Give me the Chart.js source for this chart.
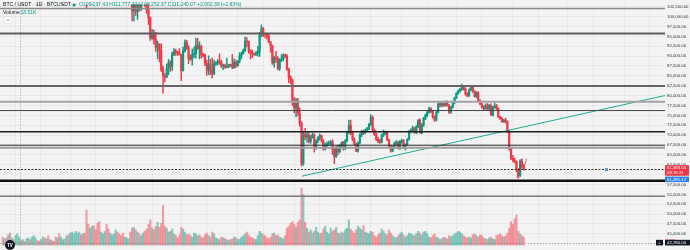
<!DOCTYPE html>
<html>
<head>
<meta charset="utf-8">
<script src="https://cdn.jsdelivr.net/npm/chart.js@4.4.1/dist/chart.umd.min.js"></script>
<style>
  html, body { margin: 0; padding: 0; background: #f3f3f3; }
  #wrap { width: 690px; height: 250px; }
</style>
</head>
<body>
<div id="wrap"><canvas id="c" width="690" height="250"></canvas></div>
<script>
// BTC / USDT daily candles, prices in thousands of USDT, volume in K BTC
const opens = [
  113.5,110.1,111.8,111.3,112.6,108.4,108.8,108.2,109.2,111.2,
  111.7,110.7,110.7,110.2,111.1,112.0,111.5,113.9,115.5,116.0,
  115.9,115.3,115.3,116.8,116.4,117.1,115.6,115.7,115.2,112.6,
  111.9,113.3,109.0,109.6,109.6,112.1,114.4,114.0,118.6,120.5,
  122.2,122.4,123.5,124.7,121.4,123.3,121.7,113.2,110.6,115.2,
  115.3,113.0,110.8,108.2,106.4,107.2,108.6,110.6,108.5,107.6,
  110.1,111.0,111.6,114.6,114.1,112.9,110.1,108.3,109.6,110.1,
  110.6,106.6,101.5,103.9,101.3,103.3,102.3,104.7,106.0,103.1,
  101.7,99.7,94.6,95.6,94.3,92.2,92.9,91.5,86.6,85.1,
  84.7,86.8,88.3,87.4,90.5,91.3,90.9,90.8,90.4,86.3,
  91.3,93.4,92.1,89.4,89.3,90.4,90.6,92.7,92.0,92.5,
  90.3,90.3,88.2,86.4,87.8,86.2,85.5,88.1,88.3,88.6,
  88.5,87.5,87.6,87.2,87.3,87.8,87.8,87.1,88.4,87.6,
  88.7,90.0,90.6,91.4,93.8,93.7,91.3,91.0,90.6,90.5,
  90.8,91.2,95.3,97.0,95.6,95.5,95.1,93.6,92.6,88.3,
  89.5,89.4,86.8,88.9,89.3,90.2,90.1,86.7,84.6,84.0,
  78.6,76.9,78.7,75.6,73.0,62.8,70.1,69.6,70.0,68.4,
  69.5,70.0,66.9,68.6,69.3,69.9,68.5,66.5,67.5,67.8,
  68.0,68.3,66.3,64.6,66.9,65.8,67.4,68.1,66.6,68.6,
  70.6,72.5,70.6,68.9,67.7,66.0,68.0,70.1,70.8,70.6,
  71.2,71.6,72.7,74.5,71.3,70.2,68.9,68.5,68.2,69.9,
  70.5,70.8,68.8,67.3,66.0,67.0,67.9,68.2,66.7,68.4,
  68.6,66.8,67.5,68.9,70.9,71.3,71.8,70.6,72.1,73.8,
  70.6,72.5,74.2,75.0,75.8,76.7,76.0,74.6,73.8,75.8,
  77.9,77.6,77.9,77.5,78.3,77.5,75.8,77.0,78.2,79.4,
  80.6,81.2,81.6,82.4,81.7,80.4,80.0,81.5,82.2,81.1,
  79.8,80.8,78.7,77.9,77.1,76.7,77.5,76.7,77.5,75.1,
  77.1,77.5,76.7,74.6,74.2,73.4,73.8,73.4,71.0,66.5,
  64.1,63.6,63.3,61.1,59.8,63.4,62.0
];
const highs = [
  113.6,112.4,112.6,113.5,112.7,108.9,109.0,109.9,111.8,112.6,
  112.2,113.4,111.3,111.5,112.9,113.2,114.3,115.5,116.7,116.3,
  116.1,116.8,117.0,117.3,117.9,117.5,116.1,115.8,115.4,113.3,
  113.9,113.4,110.0,109.8,112.4,114.5,114.8,118.6,121.0,123.9,
  122.9,125.7,126.2,125.1,124.2,123.8,122.6,113.5,115.8,116.0,
  115.6,113.6,111.3,109.2,107.5,109.5,111.7,114.0,109.1,111.0,
  112.0,111.9,115.0,116.4,116.1,113.6,111.6,111.2,110.6,111.2,
  110.8,107.3,104.5,104.2,104.0,103.9,105.0,106.7,107.5,105.3,
  104.0,99.9,96.8,96.6,96.0,93.8,93.2,93.2,87.5,85.6,
  88.0,89.2,88.9,91.0,91.9,91.8,91.2,91.9,90.4,92.3,
  94.1,94.0,92.7,90.3,91.8,92.3,94.6,94.5,93.6,92.8,
  90.7,90.5,89.0,90.1,89.2,89.5,89.0,88.6,89.1,90.6,
  89.0,88.0,88.0,89.5,88.0,88.0,90.4,89.3,89.0,88.9,
  90.9,91.0,91.8,94.8,94.7,93.8,91.6,91.6,90.8,91.2,
  92.5,96.0,97.9,97.2,95.9,95.6,95.5,93.6,92.8,90.0,
  91.2,89.9,89.4,90.4,90.6,90.5,90.4,87.0,85.0,84.2,
  79.5,79.3,79.3,76.9,73.4,71.0,71.7,70.8,70.5,70.0,
  70.6,70.4,68.8,69.6,70.3,70.0,68.9,68.0,68.3,68.5,
  68.6,68.8,66.8,67.3,67.5,67.6,68.3,68.4,68.9,70.9,
  73.8,73.8,71.0,69.3,68.0,68.3,70.4,71.2,71.3,71.5,
  72.0,73.0,75.2,74.9,71.6,70.5,69.5,69.0,70.2,71.3,
  71.0,71.0,69.0,67.5,67.2,68.3,68.6,68.4,68.7,69.0,
  68.9,67.8,69.1,71.2,71.6,72.3,72.0,72.4,73.9,74.2,
  72.9,74.5,75.3,76.0,77.1,77.0,76.3,74.9,76.0,78.2,
  78.5,78.3,78.1,78.6,78.7,77.8,77.3,78.3,79.6,80.8,
  81.4,81.9,82.9,82.6,82.0,80.7,81.7,82.6,82.5,81.3,
  81.0,81.0,79.0,78.2,77.4,77.9,78.0,77.8,77.9,77.3,
  78.1,77.8,77.0,74.8,74.5,74.0,74.3,73.6,71.2,66.8,
  64.9,64.2,63.5,61.5,63.8,64.0,62.7
];
const lows = [
  109.7,109.3,110.4,110.9,107.5,107.4,108.1,107.3,108.7,110.9,
  109.3,110.1,109.9,110.0,110.6,110.8,110.9,113.4,114.8,115.3,
  114.8,114.4,114.8,114.7,116.2,115.1,115.4,114.9,111.9,111.2,
  111.6,108.6,108.6,109.1,109.3,111.6,112.6,113.9,118.0,119.3,
  121.7,122.1,123.1,120.6,121.1,119.7,102.0,109.7,109.6,113.0,
  110.0,110.2,107.5,103.5,106.3,106.1,107.4,107.5,106.9,107.5,
  109.7,110.6,111.3,113.9,112.2,109.2,106.3,108.0,109.4,109.6,
  105.3,98.9,98.9,100.3,99.3,101.4,101.5,104.3,102.5,100.8,
  98.0,94.0,94.2,93.0,91.2,89.3,88.6,86.1,80.6,83.5,
  84.6,85.3,86.1,86.3,90.1,90.2,90.2,90.3,83.8,86.2,
  91.0,91.7,88.1,88.9,87.7,89.6,89.5,91.7,89.3,89.5,
  89.8,87.6,85.1,85.3,85.3,84.4,85.3,87.6,87.8,87.9,
  87.1,86.6,86.9,87.0,87.1,87.4,86.8,86.9,87.1,87.4,
  88.3,89.3,90.5,91.1,92.4,90.7,89.3,89.6,90.2,90.1,
  90.0,89.9,94.9,94.9,94.6,94.3,93.4,91.0,87.9,87.2,
  88.4,86.5,86.4,88.6,88.8,89.6,86.4,83.3,83.0,77.5,
  75.7,74.6,74.9,72.2,62.2,62.3,68.9,68.2,68.0,67.9,
  69.2,65.7,66.4,68.0,68.7,68.2,66.2,66.2,67.0,67.4,
  67.6,65.1,62.8,64.3,65.0,65.5,67.0,66.2,66.3,68.3,
  70.3,70.1,68.6,67.5,65.8,65.7,67.8,69.6,70.1,70.3,
  70.9,71.4,72.4,71.1,69.9,68.6,68.1,67.9,68.0,69.6,
  70.1,68.6,67.1,65.7,65.8,66.7,67.6,66.5,66.4,67.9,
  66.6,66.2,67.3,68.7,70.5,71.0,70.4,70.3,71.9,70.4,
  70.3,72.2,73.9,74.7,75.5,75.7,74.3,73.5,73.6,75.6,
  77.1,77.2,77.2,77.3,77.3,75.4,75.5,76.8,77.9,79.2,
  80.3,80.9,81.3,81.4,80.1,79.7,79.8,81.2,80.8,79.6,
  79.5,78.5,77.7,76.8,76.4,76.5,76.4,76.4,74.9,74.8,
  76.8,76.5,74.5,74.0,73.2,73.2,73.0,70.7,66.2,63.8,
  63.2,62.9,60.7,59.1,59.5,61.6,61.1
];
const closes = [
  110.1,111.8,111.3,112.6,108.4,108.8,108.2,109.2,111.2,111.7,
  110.7,110.7,110.2,111.1,112.0,111.5,113.9,115.5,116.0,115.9,
  115.3,115.3,116.8,116.4,117.1,115.6,115.7,115.2,112.6,111.9,
  113.3,109.0,109.6,109.6,112.1,114.4,114.0,118.6,120.5,122.2,
  122.4,123.5,124.7,121.4,123.3,121.7,113.2,110.6,115.2,115.3,
  113.0,110.8,108.2,106.4,107.2,108.6,110.6,108.5,107.6,110.1,
  111.0,111.6,114.6,114.1,112.9,110.1,108.3,109.6,110.1,110.6,
  106.6,101.5,103.9,101.3,103.3,102.3,104.7,106.0,103.1,101.7,
  99.7,94.6,95.6,94.3,92.2,92.9,91.5,86.6,85.1,84.7,
  86.8,88.3,87.4,90.5,91.3,90.9,90.8,90.4,86.3,91.3,
  93.4,92.1,89.4,89.3,90.4,90.6,92.7,92.0,92.5,90.3,
  90.2,88.2,86.4,87.8,86.2,85.5,88.1,88.3,88.6,88.5,
  87.5,87.6,87.2,87.3,87.8,87.7,87.1,88.4,87.6,88.7,
  90.0,90.6,91.4,93.8,93.7,91.3,91.0,90.6,90.5,90.8,
  91.2,95.3,97.0,95.6,95.5,95.1,93.6,92.6,88.3,89.5,
  89.4,86.8,88.9,89.3,90.2,90.1,86.7,84.6,84.0,78.6,
  76.9,78.7,75.6,73.0,62.8,70.1,69.6,70.0,68.4,69.5,
  70.0,66.9,68.6,69.3,69.9,68.5,66.5,67.5,67.8,68.0,
  68.3,66.3,64.6,66.9,65.8,67.4,68.1,66.6,68.6,70.6,
  72.5,70.6,68.9,67.7,66.0,68.0,70.1,70.8,70.6,71.2,
  71.6,72.7,74.5,71.3,70.2,68.9,68.5,68.2,69.9,70.5,
  70.8,68.8,67.3,66.0,67.0,67.9,68.2,66.7,68.4,68.6,
  66.8,67.5,68.9,70.9,71.3,71.8,70.6,72.1,73.8,70.6,
  72.5,74.2,75.0,75.8,76.7,76.0,74.6,73.8,75.8,77.9,
  77.6,77.9,77.5,78.3,77.5,75.8,77.0,78.2,79.4,80.6,
  81.2,81.6,82.4,81.7,80.4,80.0,81.5,82.2,81.1,79.8,
  80.8,78.7,77.9,77.1,76.7,77.5,76.7,77.5,75.1,77.1,
  77.5,76.7,74.6,74.2,73.4,73.8,73.4,71.0,66.5,64.1,
  63.6,63.3,61.1,59.8,63.4,62.0,61.39355
];
const volumes = [
  19,15,17,24,28,17,13,22,26,19,
  11,13,9,15,17,13,19,22,17,11,
  9,13,19,17,15,22,13,11,9,19,
  17,26,19,13,15,22,24,28,30,26,
  32,28,30,24,26,28,80,48,39,43,
  45,35,50,54,30,26,32,48,37,28,
  24,26,35,30,26,22,28,19,17,15,
  30,39,41,35,30,26,22,28,32,37,
  48,58,39,35,43,52,41,50,91,43,
  39,30,32,37,26,22,17,24,41,37,
  30,24,26,22,19,28,26,22,24,19,
  17,24,28,22,19,30,26,17,15,13,
  19,17,15,13,11,13,15,19,17,13,
  15,19,22,26,30,24,19,17,15,13,
  22,32,28,24,22,17,15,19,26,28,
  22,24,19,17,15,22,39,43,50,54,
  48,41,52,58,130,115,52,39,30,35,
  28,32,41,30,26,28,37,43,30,26,
  39,32,35,41,28,26,30,28,35,39,
  58,37,32,28,35,43,39,35,45,30,
  28,26,32,30,22,19,24,28,37,32,
  26,24,35,28,22,19,17,22,26,30,
  24,19,22,28,26,24,22,26,32,28,
  24,30,32,26,19,17,22,26,19,17,
  13,15,19,17,15,22,19,22,26,28,
  32,30,26,22,19,17,19,17,24,26,
  22,19,24,22,17,15,13,17,19,15,
  13,22,24,26,22,19,22,28,39,54,
  48,60,69,32,26,22,18.51
];

// horizontal levels drawn on the chart (price, thousands)
const levels = [102.07, 95.73, 82.44, 78.42, 76.22, 70.85, 67.44, 66.83, 58.42, 54.51];
const lastPrice = 61.39355;
// trend line and small red strokes: [dayIndex, price]
const trendLine = [[164.2, 59.6], [363.5, 80.03]];
const redStrokeA = [[282.1, 59.15], [283.9, 61.59]];
const redStrokeB = [[285.7, 61.18], [287.6, 64.03]];
// axis ticks
const priceTicks = [42.5,45,47.5,50,52.5,55,57.5,60,62.5,65,67.5,70,72.5,75,77.5,80,82.5,85,87.5,90,92.5,95,97.5,100,102.5];
const gridDays = [7,21,37,51,68,82,98,112,129,143,160,174,188,202,219,233,249,263,280,294,310,324,341,355];
const crosshairDay = 9.5;
const crosshairPrice = 42.78;

const UP = '#089981', DOWN = '#f23645';
const isUp = i => closes[i] >= opens[i];

const fmt = v => (v * 1000).toLocaleString('en-US', { minimumFractionDigits: 2, maximumFractionDigits: 2 });

const decor = {
  id: 'decor',
  beforeDraw(chart) {
    const ctx = chart.ctx;
    ctx.save();
    ctx.fillStyle = '#f3f3f3';
    ctx.fillRect(0, 0, chart.width, chart.height);
    ctx.restore();
  },
  beforeDatasetsDraw(chart) {
    const { ctx, chartArea: a, scales } = chart;
    ctx.save();
    ctx.strokeStyle = '#9a9ea8';
    ctx.lineWidth = 1;
    ctx.setLineDash([1, 2]);
    const cx = Math.round(scales.x.getPixelForValue(crosshairDay)) + 0.5;
    ctx.beginPath(); ctx.moveTo(cx, a.top); ctx.lineTo(cx, a.bottom); ctx.stroke();
    const cy = Math.round(scales.y.getPixelForValue(crosshairPrice)) + 0.5;
    ctx.beginPath(); ctx.moveTo(a.left, cy); ctx.lineTo(a.right, cy); ctx.stroke();
    ctx.restore();
  },
  afterDatasetsDraw(chart) {
    const { ctx, chartArea: a, scales } = chart;
    const y = scales.y;
    const styles = [
      ['#8a8a8a', 1.5], ['#5e5e5e', 2], ['#666666', 2], ['#a3a3a3', 2], ['#444444', 1],
      ['#1e1e1e', 1.5], ['#2a2a2a', 1], ['#9c9c9c', 2], ['#111111', 2.5], ['#7a7a7a', 1.5]
    ];
    ctx.save();
    ctx.beginPath(); ctx.rect(a.left, a.top, a.right - a.left, a.bottom - a.top); ctx.clip();
    levels.forEach((p, k) => {
      const py = y.getPixelForValue(p);
      ctx.strokeStyle = styles[k][0];
      ctx.lineWidth = styles[k][1];
      ctx.beginPath(); ctx.moveTo(a.left, py); ctx.lineTo(a.right, py); ctx.stroke();
    });
    // last price line
    const lp = Math.round(y.getPixelForValue(lastPrice)) + 0.5;
    ctx.strokeStyle = '#2b2b2b';
    ctx.lineWidth = 1.2;
    ctx.setLineDash([2, 1.5]);
    ctx.beginPath(); ctx.moveTo(a.left, lp); ctx.lineTo(a.right, lp); ctx.stroke();
    ctx.setLineDash([]);
    ctx.fillStyle = '#5b9bd5';
    ctx.fillRect(605, lp - 1.5, 3, 3);
    ctx.restore();
  },
  afterDraw(chart) {
    const { ctx, scales } = chart;
    const y = scales.y;
    ctx.save();
    ctx.textBaseline = 'middle';
    // header legend
    ctx.font = '5.1px "Liberation Sans", Arial, sans-serif';
    ctx.fillStyle = '#131722';
    ctx.fillText('BTC / USDT · 1D · BTCUSDT', 3, 5);
    ctx.fillStyle = '#089981';
    ctx.beginPath(); ctx.arc(74, 5, 1.5, 0, Math.PI * 2); ctx.fill();
    ctx.font = '5px "Liberation Sans", Arial, sans-serif';
    ctx.fillText('O109,237.43 H111,777.32 L108,252.37 C111,240.07 +2,002.39 (+1.83%)', 79, 5);
    ctx.fillStyle = '#131722';
    ctx.fillText('Volume', 3, 13);
    ctx.fillStyle = '#089981';
    ctx.fillText('18.51K', 20.5, 13);
    // collapse button
    ctx.fillStyle = '#ffffff';
    ctx.strokeStyle = '#d6d6d6';
    ctx.lineWidth = 0.6;
    ctx.beginPath(); ctx.rect(4, 17, 8, 6); ctx.fill(); ctx.stroke();
    ctx.strokeStyle = '#333';
    ctx.beginPath(); ctx.moveTo(6.5, 21); ctx.lineTo(8, 19.5); ctx.lineTo(9.5, 21); ctx.stroke();

    // right side price labels
    const box = (x, yy, w, h, bg) => { ctx.fillStyle = bg; ctx.fillRect(x, yy, w, h); };
    ctx.font = '4.3px "Liberation Sans", Arial, sans-serif';
    const lpY = y.getPixelForValue(lastPrice);
    box(665, lpY - 4, 24, 10.5, '#f23645');
    ctx.fillStyle = '#ffffff';
    ctx.fillText(fmt(lastPrice), 667, lpY - 1);
    ctx.fillText('09:16:21', 667, lpY + 3.5);
    box(665, lpY + 7.5, 24, 5.5, '#2f80ed');
    ctx.fillStyle = '#ffffff';
    ctx.fillText('61,281.17', 667, lpY + 10.3);
    // volume label and crosshair label
    box(665, 239.5, 10.5, 5, '#f7525f');
    ctx.fillStyle = '#ffffff';
    ctx.font = '3.6px "Liberation Sans", Arial, sans-serif';
    ctx.fillText('18.51K', 665.7, 242);
    const chY = y.getPixelForValue(crosshairPrice);
    box(656, chY - 2.8, 7, 5.6, '#131722');
    box(665, chY - 2.8, 25, 5.6, '#131722');
    ctx.fillStyle = '#ffffff';
    ctx.font = '4.3px "Liberation Sans", Arial, sans-serif';
    ctx.fillText(fmt(crosshairPrice), 667, chY);
    ctx.fillText('+', 658, chY);

    // TradingView badge
    ctx.fillStyle = '#131722';
    ctx.beginPath(); ctx.arc(10, 245, 5, 0, Math.PI * 2); ctx.fill();
    ctx.fillStyle = '#ffffff';
    ctx.font = 'bold 4.5px "Liberation Sans", Arial, sans-serif';
    ctx.fillText('TV', 7, 245.3);
    ctx.restore();
  }
};

const idx = closes.map((_, i) => i);

new Chart(document.getElementById('c'), {
  data: {
    datasets: [
      {
        type: 'line', order: -1, yAxisID: 'y',
        data: trendLine.map(p => ({ x: p[0], y: p[1] })),
        borderColor: '#22ab94', borderWidth: 1, pointRadius: 0
      },
      {
        type: 'line', order: -1, yAxisID: 'y',
        data: redStrokeA.map(p => ({ x: p[0], y: p[1] })),
        borderColor: '#f23645', borderWidth: 0.8, pointRadius: 0
      },
      {
        type: 'line', order: -1, yAxisID: 'y',
        data: redStrokeB.map(p => ({ x: p[0], y: p[1] })),
        borderColor: '#f23645', borderWidth: 0.8, pointRadius: 0
      },
      {
        type: 'bar', order: 0, yAxisID: 'y', grouped: false,
        data: idx.map(i => ({ x: i, y: [opens[i], closes[i]] })),
        backgroundColor: c => isUp(c.dataIndex) ? UP : DOWN,
        barThickness: 1.5, minBarLength: 0.8
      },
      {
        type: 'bar', order: 1, yAxisID: 'y', grouped: false,
        data: idx.map(i => ({ x: i, y: [lows[i], highs[i]] })),
        backgroundColor: c => isUp(c.dataIndex) ? UP : DOWN,
        barThickness: 0.8
      },
      {
        type: 'bar', order: 3, yAxisID: 'vol', grouped: false,
        data: idx.map(i => ({ x: i, y: volumes[i] })),
        backgroundColor: c => isUp(c.dataIndex) ? 'rgba(8,153,129,0.45)' : 'rgba(242,54,69,0.45)',
        barThickness: 1.5
      }
    ]
  },
  options: {
    responsive: false,
    devicePixelRatio: 1,
    animation: false,
    layout: { padding: 0 },
    plugins: { legend: { display: false }, tooltip: { enabled: false } },
    scales: {
      x: {
        type: 'linear', min: -1.5, max: 363.5, offset: false,
        afterBuildTicks: s => { s.ticks = gridDays.map(v => ({ value: v })); },
        afterFit: s => { s.height = 0; },
        ticks: { display: false },
        grid: { color: 'rgba(0,0,0,0.04)', drawTicks: false, offset: false },
        border: { display: false }
      },
      y: {
        position: 'right', min: 42.075, max: 103.05,
        afterBuildTicks: s => { s.ticks = priceTicks.map(v => ({ value: v })); },
        afterFit: s => { s.width = 25; },
        ticks: {
          callback: v => fmt(v),
          font: { size: 4.3, family: '"Liberation Sans", Arial, sans-serif' },
          color: '#333333', padding: 2
        },
        grid: { color: 'rgba(0,0,0,0.035)', drawTicks: false },
        border: { display: false }
      },
      vol: { display: false, min: 0, max: 545 }
    }
  },
  plugins: [decor]
});
</script>
</body>
</html>
